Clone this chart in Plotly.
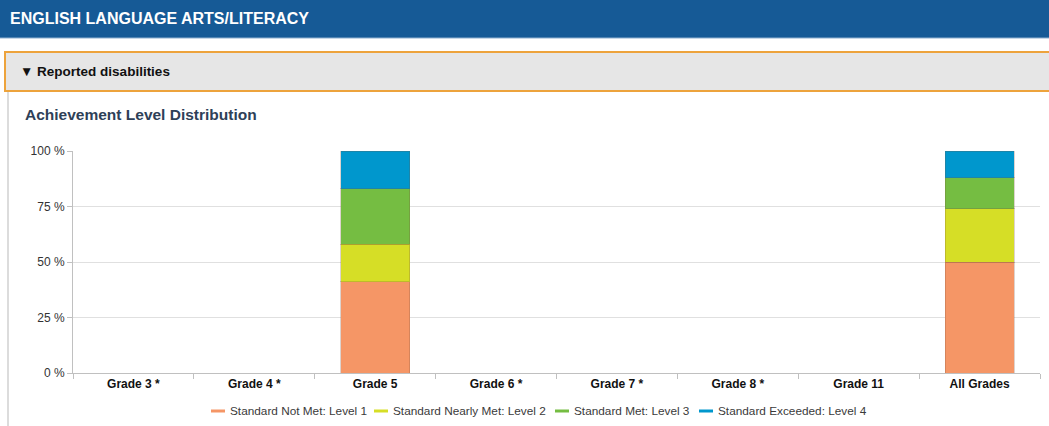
import plotly.graph_objects as go

categories = ["Grade 3 *", "Grade 4 *", "Grade 5", "Grade 6 *", "Grade 7 *", "Grade 8 *", "Grade 11", "All Grades"]
level1 = [None, None, 41, None, None, None, None, 50]
level2 = [None, None, 17, None, None, None, None, 24]
level3 = [None, None, 25, None, None, None, None, 14]
level4 = [None, None, 17, None, None, None, None, 12]
series_names = ["Standard Not Met: Level 1", "Standard Nearly Met: Level 2",
                "Standard Met: Level 3", "Standard Exceeded: Level 4"]
colors = ["#f59666", "#d6de26", "#75bd42", "#0097cd"]
y_ticks = [0, 25, 50, 75, 100]
y_tick_labels = ["0 %", "25 %", "50 %", "75 %", "100 %"]

W, H = 1049, 426
L, R, T, B = 73, 9, 151, 53
pw, ph = W - L - R, H - T - B

def px(x):
    return (x - L) / pw

def py(y):
    return 1 - (y - T) / ph

FONT = "Liberation Sans, Arial, sans-serif"

fig = go.Figure()
for vals, name, c in zip([level1, level2, level3, level4], series_names, colors):
    fig.add_trace(go.Bar(x=categories, y=vals, name=name, marker_color=c,
                         marker_line=dict(color="rgba(120,80,60,0.25)", width=1),
                         width=0.57, showlegend=False))

shapes = [
    # header band
    dict(type="rect", xref="paper", yref="paper", x0=px(0), x1=px(W), y0=py(38), y1=py(0),
         fillcolor="#165a96", line=dict(width=0), layer="below"),
    dict(type="line", xref="paper", yref="paper", x0=px(0), x1=px(W), y0=py(38), y1=py(38),
         line=dict(color="#8fb0d0", width=1)),
    # collapsible bar
    dict(type="rect", xref="paper", yref="paper", x0=px(5), x1=px(W + 5), y0=py(91), y1=py(52),
         fillcolor="#e6e6e6", line=dict(color="#eda33c", width=2), layer="below"),
    # left panel border
    dict(type="line", xref="paper", yref="paper", x0=px(8), x1=px(8), y0=py(H), y1=py(92),
         line=dict(color="#dcdcdc", width=2)),
]

annotations = [
    dict(text="<b>ENGLISH LANGUAGE ARTS/LITERACY</b>", xref="paper", yref="paper",
         x=px(8), y=py(19), xanchor="left", yanchor="middle", showarrow=False,
         font=dict(family=FONT, size=16, color="white")),
    dict(text="<b>▼ Reported disabilities</b>", xref="paper", yref="paper",
         x=px(18), y=py(71), xanchor="left", yanchor="middle", showarrow=False,
         font=dict(family=FONT, size=13.5, color="#111111")),
    dict(text="<b>Achievement Level Distribution</b>", xref="paper", yref="paper",
         x=px(23), y=py(115), xanchor="left", yanchor="middle", showarrow=False,
         font=dict(family=FONT, size=15.5, color="#2e4057")),
]

# legend (line symbols + labels), drawn below the plot
legend_x = [211, 374, 555, 699]
legend_y = 411
for lx, name, c in zip(legend_x, series_names, colors):
    shapes.append(dict(type="line", xref="paper", yref="paper",
                       x0=px(lx), x1=px(lx + 14), y0=py(legend_y), y1=py(legend_y),
                       line=dict(color=c, width=3)))
    annotations.append(dict(text=name, xref="paper", yref="paper",
                            x=px(lx + 17), y=py(legend_y), xanchor="left", yanchor="middle",
                            showarrow=False,
                            font=dict(family=FONT, size=11.8, color="#3a3a3a")))

fig.update_layout(
    width=W, height=H,
    margin=dict(l=L, r=R, t=T, b=B, pad=0, autoexpand=False),
    paper_bgcolor="white", plot_bgcolor="white",
    barmode="stack",
    font=dict(family=FONT, size=12, color="#333333"),
    shapes=shapes, annotations=annotations,
    showlegend=False,
)
fig.update_xaxes(
    type="category", categoryorder="array", categoryarray=categories,
    tickmode="array", tickvals=categories,
    ticktext=[f"<b>{c}</b>" for c in categories],
    tickfont=dict(family=FONT, size=12, color="#111111"),
    showline=True, linecolor="#c0c0c0", linewidth=1,
    ticks="outside", ticklen=5, tickcolor="#c0c0c0", tickson="boundaries",
    showgrid=False, fixedrange=True, automargin=False,
)
fig.update_yaxes(
    range=[0, 100], tickmode="array", tickvals=y_ticks, ticktext=y_tick_labels,
    tickfont=dict(family=FONT, size=12, color="#333333"),
    showgrid=True, gridcolor="#e0e0e0", gridwidth=1,
    ticks="outside", ticklen=5, tickcolor="#c0c0c0",
    zeroline=False, showline=True, linecolor="#c0c0c0", linewidth=1,
    fixedrange=True, automargin=False,
)

fig.write_html("out.html", config={"displayModeBar": False},
               post_script="document.body.style.margin='0';document.body.style.overflow='hidden';")
